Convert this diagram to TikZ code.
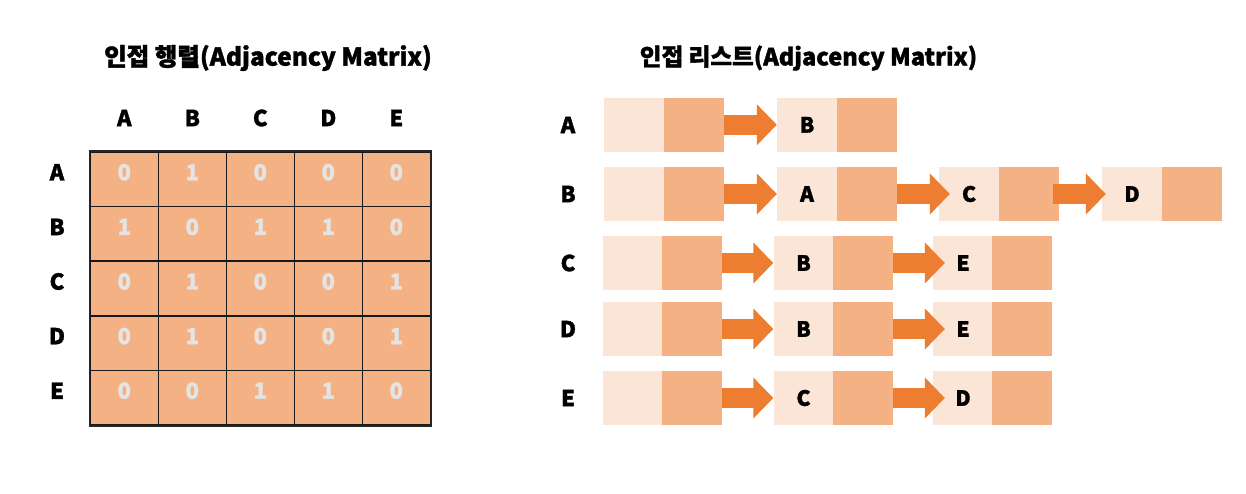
\documentclass[tikz,border=0pt]{standalone}
\usepackage{fontspec}
\setmainfont{Noto Sans CJK KR Black}[FakeBold=1.6]
\usetikzlibrary{arrows.meta}
\definecolor{lightor}{HTML}{FBE5D6}
\definecolor{darkor}{HTML}{F4B183}
\definecolor{arrowor}{HTML}{ED7D31}
\definecolor{digitgray}{HTML}{E4E4E4}
\tikzset{
  title/.style={font=\fontsize{24.5}{28}\selectfont, inner sep=0pt},
  lbl/.style={font=\fontsize{22}{26}\selectfont, inner sep=0pt},
  cell/.style={draw=black!90, line width=1.5pt, fill=darkor, minimum width=68pt, minimum height=54.6pt, inner sep=0pt},
  digit/.style={font=\fontsize{22}{26}\selectfont, text=digitgray, inner sep=0pt},
  lbox/.style={fill=lightor, minimum width=60pt, minimum height=53.7pt, inner sep=0pt, font=\fontsize{21}{24}\selectfont},
  dbox/.style={fill=darkor, minimum width=60pt, minimum height=53.7pt, inner sep=0pt},
  fat/.style={line width=19.5pt, draw=arrowor, -{Triangle[width=40pt,length=20pt]}}
}
\begin{document}
\begin{tikzpicture}[x=1pt,y=-1pt]
\path[use as bounding box] (0,0) rectangle (1246,494);
% titles
\node[title] (t1) at (268,58) {인접 행렬(Adjacency Matrix)};
\node[title, font=\fontsize{23.6}{28}\selectfont] (t2) at (808.5,58) {인접 리스트(Adjacency Matrix)};
% matrix
\foreach \n [count=\j] in {A,B,C,D,E} {
  \node[lbl] (ch\j) at ({90.3+68*(\j-0.5)},118) {\n};
  \node[lbl] (rh\j) at (57,{152+54.6*(\j-0.5)-7}) {\n};
}
\foreach \r [count=\i] in {{0,1,0,0,0},{1,0,1,1,0},{0,1,0,0,1},{0,1,0,0,1},{0,0,1,1,0}} {
  \foreach \v [count=\j] in \r {
    \node[cell] (m\i\j) at ({90.3+68*(\j-0.5)},{152+54.6*(\i-0.5)}) {};
    \node[digit] (d\i\j) at ([yshift=7pt]m\i\j.center) {\v};
  }
}
\draw[black!85, line width=1.8pt] (m11.north west) rectangle (m55.south east);
% list row labels
\node[lbl] (la) at (568,125) {A};
\node[lbl] (lb) at (568,194) {B};
\node[lbl] (lc) at (568,263) {C};
\node[lbl] (ld) at (568,329) {D};
\node[lbl] (le) at (568,398) {E};
% row A
\node[lbox] (a0) at (634,124.8) {};
\node[dbox] (a0p) at (694,124.8) {};
\node[lbox] (a1) at (807,124.8) {B};
\node[dbox] (a1p) at (867,124.8) {};
% row B
\node[lbox] (b0) at (634,194) {};
\node[dbox] (b0p) at (694,194) {};
\node[lbox] (b1) at (807,194) {A};
\node[dbox] (b1p) at (867,194) {};
\node[lbox] (b2) at (969,194) {C};
\node[dbox] (b2p) at (1029,194) {};
\node[lbox] (b3) at (1132,194) {D};
\node[dbox] (b3p) at (1192,194) {};
% row C
\node[lbox] (c0) at (632.5,263) {};
\node[dbox] (c0p) at (691.5,263) {};
\node[lbox] (c1) at (803.5,263) {B};
\node[dbox] (c1p) at (862.5,263) {};
\node[lbox] (c2) at (963,263) {E};
\node[dbox] (c2p) at (1022,263) {};
% row D
\node[lbox] (d0) at (632.5,329) {};
\node[dbox] (d0p) at (691.5,329) {};
\node[lbox] (d1) at (803.5,329) {B};
\node[dbox] (d1p) at (862.5,329) {};
\node[lbox] (d2) at (963,329) {E};
\node[dbox] (d2p) at (1022,329) {};
% row E
\node[lbox] (e0) at (632.5,398) {};
\node[dbox] (e0p) at (691.5,398) {};
\node[lbox] (e1) at (803.5,398) {C};
\node[dbox] (e1p) at (862.5,398) {};
\node[lbox] (e2) at (963,398) {D};
\node[dbox] (e2p) at (1022,398) {};
% arrows
\draw[fat] (a0p.east) -- (a1.west);
\draw[fat] (b0p.east) -- (b1.west);
\draw[fat] (b1p.east) -- ([xshift=11pt]b2.west);
\draw[fat] ([xshift=-6pt]b2p.east) -- ([xshift=4pt]b3.west);
\draw[fat] (c0p.east) -- (c1.west);
\draw[fat] (c1p.east) -- ([xshift=12pt]c2.west);
\draw[fat] (d0p.east) -- (d1.west);
\draw[fat] (d1p.east) -- ([xshift=12pt]d2.west);
\draw[fat] (e0p.east) -- (e1.west);
\draw[fat] (e1p.east) -- ([xshift=12pt]e2.west);
\end{tikzpicture}
\end{document}
